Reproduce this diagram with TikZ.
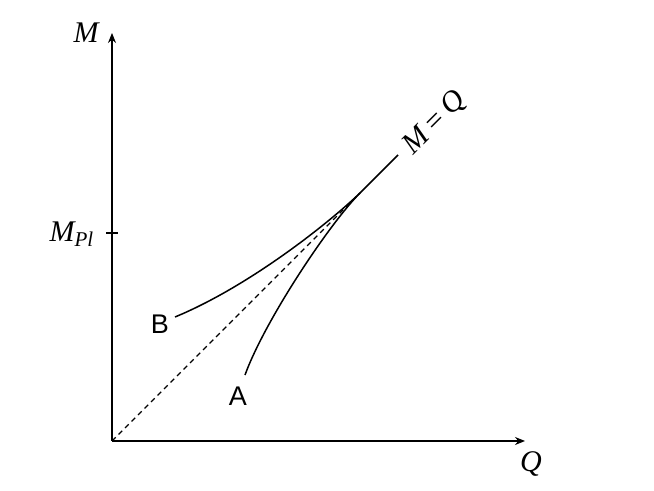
\documentclass[tikz,border=0pt]{standalone}
\usepackage{fontspec}
\setmainfont{Liberation Serif}
\setsansfont{Liberation Sans}
\usetikzlibrary{arrows.meta}
\begin{document}
\begin{tikzpicture}[x=0.5pt,y=-0.5pt,
  axis/.style={line width=0.6pt,-{Stealth[length=5pt,width=4pt]}},
  curve/.style={line width=0.75pt},
  diag/.style={line width=0.7pt,dash pattern=on 2.6pt off 2pt},
  mlabel/.style={font=\fontsize{15}{18}\selectfont\itshape,inner sep=1pt},
  slabel/.style={font=\fontsize{13.5}{16}\selectfont\sffamily,inner sep=1pt}]
\useasboundingbox (0,0) rectangle (654,491);
\coordinate (O) at (112,441);
\coordinate (Ytop) at (112,33);
\coordinate (Xend) at (525,441);
\coordinate (P) at (360,193);
\coordinate (E) at (398,155);
\coordinate (Bs) at (175,317);
\coordinate (As) at (245,375);
\coordinate (T1) at (106,233);
\coordinate (T2) at (118,233);
\draw[axis] (O) -- (Ytop);
\draw[axis] (O) -- (Xend);
\draw[line width=0.6pt] (T1) -- (T2);
\draw[diag] (O) -- (P);
\draw[curve] (P) -- (E);
\draw[curve] (Bs) .. controls (250,286) and (330,222) .. (P);
\draw[curve] (As) .. controls (265,320) and (330,223) .. (P);
\node[mlabel] (lM) at (86,33) {M};
\node[mlabel] (lMpl) at (72,234) {M\textsubscript{Pl}};
\node[mlabel] (lQ) at (531,464) {Q};
\node[slabel] (lB) at (160,324) {B};
\node[slabel] (lA) at (238,396) {A};
\node[mlabel,rotate=45] (lMQ) at (435,123) {M\hspace{3pt}{\upshape =}\hspace{3pt}Q};
\end{tikzpicture}
\end{document}
